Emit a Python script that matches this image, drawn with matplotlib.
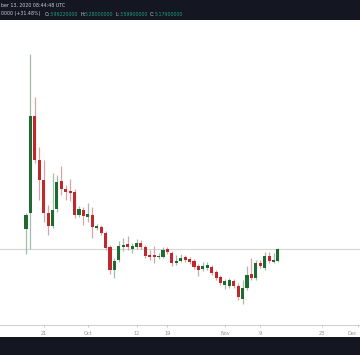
import numpy as np
import pandas as pd
import matplotlib
matplotlib.use("Agg")
import matplotlib.pyplot as plt
from matplotlib.patches import Rectangle

# Daily candles, 17 Sep - 13 Nov 2020
dates = pd.date_range("2020-09-17", periods=58, freq="D")
opens = [6.05, 6.85, 11.70, 9.50, 8.50, 6.85, 6.20, 7.05, 8.45, 8.05,
         7.95, 7.90, 6.75, 7.00, 6.65, 6.75, 6.10, 6.15, 5.85, 5.15,
         4.00, 4.50, 5.15, 5.30, 5.05, 5.15, 5.35, 5.15, 4.75, 4.75,
         4.65, 4.65, 5.05, 4.85, 4.35, 4.45, 4.65, 4.55, 4.45, 4.20,
         4.05, 4.10, 4.15, 3.90, 3.65, 3.25, 3.20, 3.45, 3.20, 2.55,
         3.10, 3.80, 3.60, 4.35, 4.10, 4.70, 4.40, 4.45]
highs = [6.85, 14.80, 12.65, 10.15, 9.50, 7.25, 8.85, 8.75, 9.20, 8.25,
         8.55, 8.05, 7.20, 7.15, 7.35, 7.15, 6.30, 6.25, 5.95, 5.25,
         4.60, 5.45, 5.60, 5.70, 5.35, 5.55, 5.50, 5.25, 5.00, 5.20,
         4.85, 5.15, 5.15, 4.95, 4.75, 4.80, 4.75, 4.65, 4.55, 4.30,
         4.40, 4.40, 4.25, 4.00, 3.75, 3.55, 3.60, 3.55, 3.35, 3.50,
         4.20, 4.60, 4.50, 4.50, 4.90, 4.90, 4.85, 5.10]
lows = [4.80, 5.05, 9.35, 7.50, 6.40, 5.75, 6.10, 6.90, 7.75, 7.50,
        7.45, 6.60, 6.65, 6.25, 6.40, 5.60, 6.00, 5.75, 5.00, 3.80,
        3.60, 4.40, 4.95, 5.00, 4.85, 5.05, 5.05, 4.60, 4.50, 4.35,
        4.55, 4.60, 4.80, 4.20, 4.25, 4.40, 4.40, 4.30, 4.05, 3.70,
        3.95, 4.00, 3.75, 3.50, 3.25, 3.05, 3.10, 3.10, 2.50, 2.30,
        3.00, 3.50, 3.50, 4.10, 4.00, 4.35, 4.35, 4.40]
closes = [6.75, 11.70, 9.50, 8.50, 6.85, 6.20, 7.00, 8.40, 8.05, 7.90,
          7.85, 6.75, 7.05, 6.70, 6.80, 6.15, 6.20, 5.85, 5.10, 4.00,
          4.45, 5.20, 5.25, 5.15, 5.20, 5.35, 5.15, 4.70, 4.65, 4.65,
          4.70, 5.00, 4.90, 4.35, 4.45, 4.60, 4.50, 4.40, 4.15, 4.00,
          4.20, 4.25, 3.85, 3.60, 3.35, 3.45, 3.50, 3.20, 2.65, 3.10,
          3.75, 3.60, 4.35, 4.20, 4.70, 4.45, 4.50, 5.05]

tick_dates = ["2020-09-21", "2020-10-01", "2020-10-12", "2020-10-19",
              "2020-11-01", "2020-11-09", "2020-11-23", "2020-12-01"]
tick_labels = ["21", "Oct", "12", "19", "Nov", "9", "23", "Dec"]

header1 = "ber 13, 2020 08:44:48 UTC"
header2 = "0000 (+31.48%)"
ohlc_text = [("O:", "3.96220000"), ("H:", "5.28000000"),
             ("L:", "3.59900000"), ("C:", "5.17900000")]

green = "#1d6b30"
red = "#c0282e"
green_wick = "#a3bda8"
red_wick = "#d8a4a4"
dark = "#141722"

fig = plt.figure(figsize=(3.6, 3.55), dpi=100)
fig.patch.set_facecolor("white")
# axes spans pixel rows 20..325 of 355
ax = fig.add_axes([0, 30 / 355, 1, 305 / 355])

x = np.arange(len(dates))
for i in x:
    o, h, l, c = opens[i], highs[i], lows[i], closes[i]
    up = c >= o
    ax.vlines(i, l, h, color=green_wick if up else red_wick, lw=0.9, zorder=2)
    ax.bar(i, abs(c - o) if abs(c - o) > 0.04 else 0.06, bottom=min(o, c),
           width=0.7, color=green if up else red, zorder=3)

# last price line
ax.axhline(closes[-1], color="#d6d6d6", lw=0.8, zorder=1)

ax.set_xlim(-26 / 4.42, (360 - 26) / 4.42)
ax.set_ylim(1.25, 16.5)

tick_pos = [(pd.Timestamp(d) - dates[0]).days for d in tick_dates]
ax.set_xticks(tick_pos)
ax.set_xticklabels(tick_labels, fontsize=3.6, color="#8a8e99")
ax.get_xticklabels()[-1].set_horizontalalignment("right")
ax.tick_params(axis="x", length=1.5, width=0.5, color="#b0b0b0", pad=2.5)
ax.set_yticks([])
for s in ["top", "left", "right"]:
    ax.spines[s].set_visible(False)
ax.spines["bottom"].set_color("#c8c8c8")
ax.spines["bottom"].set_linewidth(0.6)

# dark bars top and bottom
fig.patches.append(Rectangle((0, 1 - 20 / 355), 1, 20 / 355, transform=fig.transFigure,
                             facecolor=dark, edgecolor="none", zorder=0))
fig.patches.append(Rectangle((0, 0), 1, 18 / 355, transform=fig.transFigure,
                             facecolor=dark, edgecolor="none", zorder=0))

fig.text(0.003, 1 - 5 / 355, header1, fontsize=3.4, color="#c9ccd4", va="center")
fig.text(0.003, 1 - 14 / 355, header2, fontsize=3.4, color="#c9ccd4", va="center")
xpos = 0.003 + 44 / 360
for lab, val in ohlc_text:
    fig.text(xpos, 1 - 14 / 355, lab, fontsize=3.4, color="#c9ccd4", va="center")
    fig.text(xpos + 5 / 360, 1 - 14 / 355, val, fontsize=3.4, color="#1f9a80", va="center")
    xpos += 35 / 360

fig.savefig("out.png", dpi=100)
